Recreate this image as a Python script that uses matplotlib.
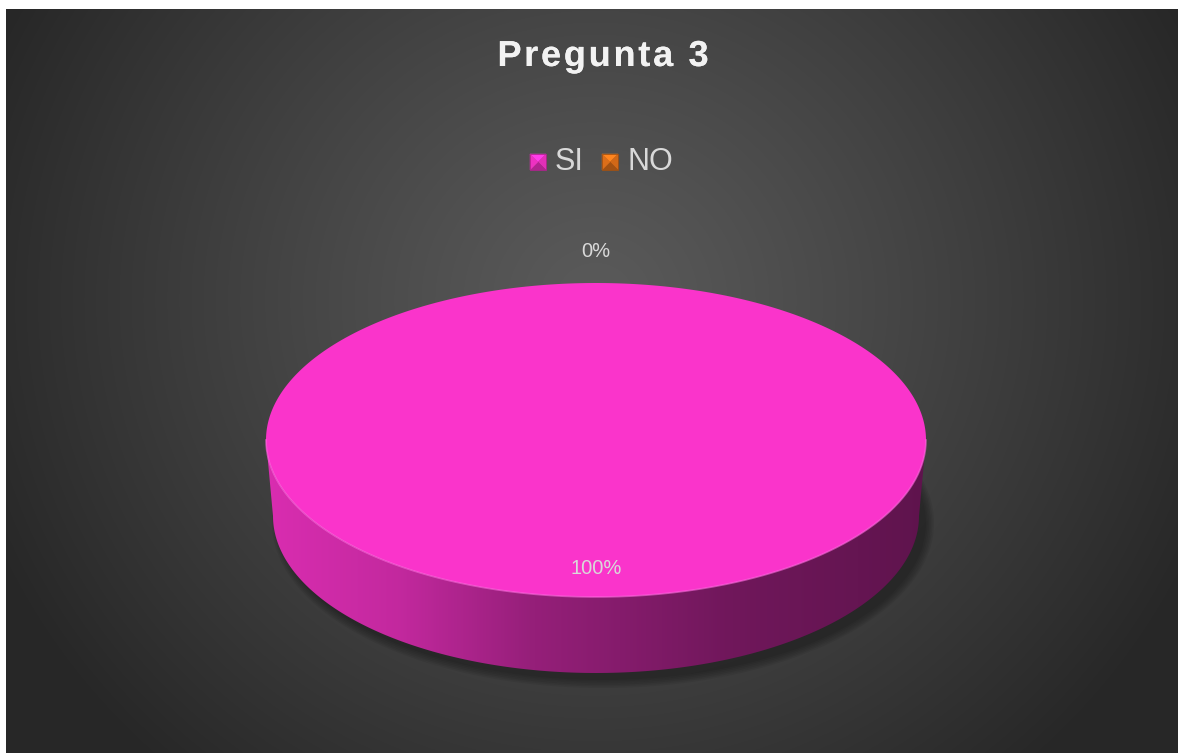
import numpy as np
import matplotlib
matplotlib.use("Agg")
import matplotlib.pyplot as plt
from matplotlib.patches import Polygon, Rectangle
from matplotlib.colors import to_rgb
import matplotlib.patheffects as pe

# Survey answers for question 3
categories = ["SI", "NO"]
values = [100, 0]
colors = ["#fa34cb", "#e8741a"]
title = "Pregunta 3"

W, H = 1178, 753
fig = plt.figure(figsize=(W / 100, H / 100), dpi=100)
fig.patch.set_facecolor("white")
ax = fig.add_axes([0, 0, 1, 1])
ax.set_xlim(0, W)
ax.set_ylim(H, 0)
ax.axis("off")

# dark radial background of the chart area
x0, y0 = 6, 9
gx, gy = np.meshgrid(np.arange(x0, W), np.arange(y0, H))
d = np.hypot((gx - 595) / 1.0, (gy - 300) / 0.95)
t = np.clip(d / 660, 0, 1) ** 1.15
c = (0x5a - (0x5a - 0x27) * t) / 255
bg = np.dstack([c, c, c])
ax.imshow(bg, extent=[x0, W, H, y0], zorder=0, interpolation="bilinear")

# pie geometry (pixels); bottom rim a touch narrower for perspective
cx, cy, rx, ry, depth = 596, 440, 330, 157, 76
rx_bot = 323

def ell(theta, dy=0, r=rx):
    return cx + r * np.sin(theta), cy - ry * np.cos(theta) + dy

# soft drop shadow toward bottom-right
n = 400
th = np.linspace(0, 2 * np.pi, n)
for k in range(6):
    grow = k * 1.6
    sx = cx + 7 + (rx_bot + grow) * np.sin(th)
    sy = cy + 7 + depth - (ry + grow) * np.cos(th)
    ax.add_patch(Polygon(np.column_stack([sx, sy]), closed=True, fc="black", ec="none",
                         alpha=0.06, zorder=1))

# side shading across the width
stops_u = [0.0, 0.2, 0.4, 0.5, 0.7, 1.0]
stops_f = [0.87, 0.78, 0.60, 0.55, 0.45, 0.38]

total = sum(values)
fracs = [v / total for v in values]
start = 0.0
spans = []
for f in fracs:
    spans.append((start, start + 2 * np.pi * f))
    start += 2 * np.pi * f

# front side of each slice (visible between 90 and 270 degrees)
for (a, b), col in zip(spans, colors):
    lo, hi = max(a, np.pi / 2), min(b, 3 * np.pi / 2)
    if hi <= lo:
        continue
    tt = np.linspace(lo, hi, 300)
    xt, yt = ell(tt)
    xb, yb = ell(tt[::-1], depth, rx_bot)
    poly = Polygon(np.column_stack([np.r_[xt, xb], np.r_[yt, yb]]), closed=True,
                   fc="none", ec="none", zorder=2)
    ax.add_patch(poly)
    base = np.array(to_rgb(col))
    u = np.linspace(0, 1, 600)
    fac = np.interp(u, stops_u, stops_f)
    grad = (fac[:, None] * base[None, :])[None, :, :]
    im = ax.imshow(grad, extent=[cx - rx, cx + rx, cy + ry + depth + 2, cy - ry],
                   zorder=2, aspect="auto", interpolation="bilinear")
    im.set_clip_path(poly)

# top faces
for (a, b), col in zip(spans, colors):
    if b - a <= 0:
        continue
    tt = np.linspace(a, b, 500)
    xt, yt = ell(tt)
    if b - a < 2 * np.pi - 1e-9:
        xt, yt = np.r_[cx, xt], np.r_[cy, yt]
    ax.add_patch(Polygon(np.column_stack([xt, yt]), closed=True, fc=col, ec="none", zorder=3))

# light rim on the front edge of the top face
tt = np.linspace(np.pi / 2, 3 * np.pi / 2, 300)
xr, yr = ell(tt)
ax.plot(xr, yr, color="#ff6ae0", lw=1.2, alpha=0.6, zorder=4)

# data labels
for (a, b), f in zip(spans, fracs):
    mid = (a + b) / 2
    r = 0.82 if f > 0 else 1.2
    lx = cx + r * rx * np.sin(mid)
    ly = cy - r * ry * np.cos(mid)
    ax.text(lx, ly, f"{f:.0%}", ha="center", va="center", fontsize=14.5,
            color="#d9d9d9", family="Liberation Sans", zorder=5)

# title with letter spacing
fig.canvas.draw()
renderer = fig.canvas.get_renderer()
tkw = dict(fontsize=26, fontweight="bold", family="Liberation Sans", color="#f2f2f2")
spacing = 2.7
widths = []
for i in range(len(title) + 1):
    tmp = ax.text(0, 0, title[:i] if i else " ", **tkw)
    bb = tmp.get_window_extent(renderer)
    widths.append(bb.width if i else 0)
    tmp.remove()
total_w = widths[-1] + spacing * (len(title) - 1)
tx0 = 603 - total_w / 2
for i, ch in enumerate(title):
    ax.text(tx0 + widths[i] + spacing * i, 66, ch, ha="left", va="baseline", zorder=6,
            path_effects=[pe.withSimplePatchShadow(offset=(1, -1.5), alpha=0.5), pe.Normal()],
            **tkw)

# legend with bevelled markers
def bevel_marker(x, y, s, col):
    base = np.array(to_rgb(col))
    corners = [(x, y), (x + s, y), (x + s, y + s), (x, y + s)]
    center = (x + s / 2, y + s / 2)
    shades = [1.15, 0.9, 0.7, 0.95]
    for i in range(4):
        p1, p2 = corners[i], corners[(i + 1) % 4]
        c = np.clip(base * shades[i], 0, 1)
        ax.add_patch(Polygon([p1, p2, center], closed=True, fc=c, ec=c, lw=0.3, zorder=6))
    ax.add_patch(Rectangle((x, y), s, s, fill=False, ec=base * 0.7, lw=0.6, zorder=6))

leg_x = [530, 602]
for name, col, lx in zip(categories, colors, leg_x):
    bevel_marker(lx, 154, 16, col)
    ax.text(lx + 25, 162, name, ha="left", va="center", fontsize=22,
            family="Liberation Sans", color="#d9d9d9", zorder=6)

fig.savefig("out.png", dpi=100, facecolor=fig.get_facecolor())
